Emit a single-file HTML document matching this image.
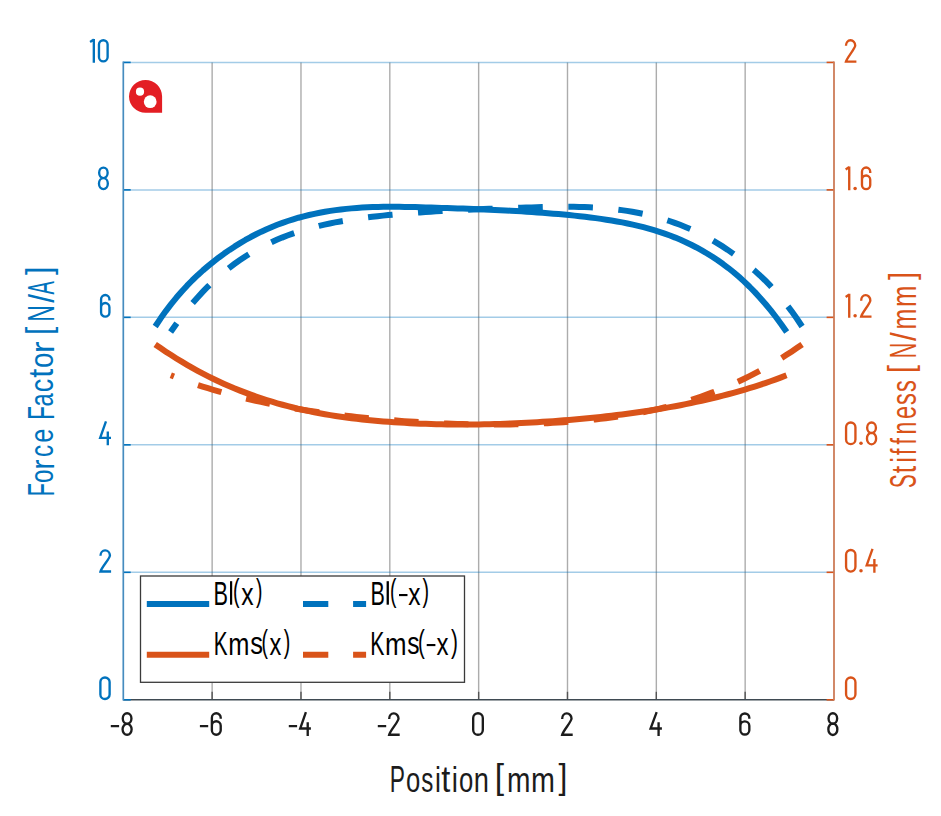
<!DOCTYPE html>
<html><head><meta charset="utf-8"><style>
html,body{margin:0;padding:0;background:#fff;}
svg{display:block;}
text{font-family:"Liberation Sans", sans-serif;}
</style></head><body>
<svg width="941" height="816" viewBox="0 0 941 816">
<rect width="941" height="816" fill="#fff"/>
<line x1="212.14" y1="62.4" x2="212.14" y2="699.8" stroke="#262626" stroke-opacity="0.38" stroke-width="1.4"/>
<line x1="300.98" y1="62.4" x2="300.98" y2="699.8" stroke="#262626" stroke-opacity="0.38" stroke-width="1.4"/>
<line x1="389.81" y1="62.4" x2="389.81" y2="699.8" stroke="#262626" stroke-opacity="0.38" stroke-width="1.4"/>
<line x1="478.65" y1="62.4" x2="478.65" y2="699.8" stroke="#262626" stroke-opacity="0.38" stroke-width="1.4"/>
<line x1="567.49" y1="62.4" x2="567.49" y2="699.8" stroke="#262626" stroke-opacity="0.38" stroke-width="1.4"/>
<line x1="656.33" y1="62.4" x2="656.33" y2="699.8" stroke="#262626" stroke-opacity="0.38" stroke-width="1.4"/>
<line x1="745.16" y1="62.4" x2="745.16" y2="699.8" stroke="#262626" stroke-opacity="0.38" stroke-width="1.4"/>
<line x1="123.3" y1="572.32" x2="834.0" y2="572.32" stroke="#0072BD" stroke-opacity="0.36" stroke-width="1.5"/>
<line x1="123.3" y1="444.84" x2="834.0" y2="444.84" stroke="#0072BD" stroke-opacity="0.36" stroke-width="1.5"/>
<line x1="123.3" y1="317.36" x2="834.0" y2="317.36" stroke="#0072BD" stroke-opacity="0.36" stroke-width="1.5"/>
<line x1="123.3" y1="189.88" x2="834.0" y2="189.88" stroke="#0072BD" stroke-opacity="0.36" stroke-width="1.5"/>
<line x1="123.3" y1="62.40" x2="834.0" y2="62.40" stroke="#0072BD" stroke-opacity="0.36" stroke-width="1.5"/>
<line x1="212.14" y1="691.8" x2="212.14" y2="699.8" stroke="#555" stroke-width="1.4"/>
<line x1="300.98" y1="691.8" x2="300.98" y2="699.8" stroke="#555" stroke-width="1.4"/>
<line x1="389.81" y1="691.8" x2="389.81" y2="699.8" stroke="#555" stroke-width="1.4"/>
<line x1="478.65" y1="691.8" x2="478.65" y2="699.8" stroke="#555" stroke-width="1.4"/>
<line x1="567.49" y1="691.8" x2="567.49" y2="699.8" stroke="#555" stroke-width="1.4"/>
<line x1="656.33" y1="691.8" x2="656.33" y2="699.8" stroke="#555" stroke-width="1.4"/>
<line x1="745.16" y1="691.8" x2="745.16" y2="699.8" stroke="#555" stroke-width="1.4"/>
<line x1="123.3" y1="699.8" x2="834.0" y2="699.8" stroke="#3f4a52" stroke-width="1.6"/>
<line x1="123.3" y1="699.80" x2="130.7" y2="699.80" stroke="#0072BD" stroke-width="1.6"/>
<line x1="826.6" y1="699.80" x2="834.0" y2="699.80" stroke="#D95319" stroke-width="1.6"/>
<line x1="123.3" y1="572.32" x2="130.7" y2="572.32" stroke="#0072BD" stroke-width="1.6"/>
<line x1="826.6" y1="572.32" x2="834.0" y2="572.32" stroke="#D95319" stroke-width="1.6"/>
<line x1="123.3" y1="444.84" x2="130.7" y2="444.84" stroke="#0072BD" stroke-width="1.6"/>
<line x1="826.6" y1="444.84" x2="834.0" y2="444.84" stroke="#D95319" stroke-width="1.6"/>
<line x1="123.3" y1="317.36" x2="130.7" y2="317.36" stroke="#0072BD" stroke-width="1.6"/>
<line x1="826.6" y1="317.36" x2="834.0" y2="317.36" stroke="#D95319" stroke-width="1.6"/>
<line x1="123.3" y1="189.88" x2="130.7" y2="189.88" stroke="#0072BD" stroke-width="1.6"/>
<line x1="826.6" y1="189.88" x2="834.0" y2="189.88" stroke="#D95319" stroke-width="1.6"/>
<line x1="123.3" y1="62.40" x2="130.7" y2="62.40" stroke="#0072BD" stroke-width="1.6"/>
<line x1="826.6" y1="62.40" x2="834.0" y2="62.40" stroke="#D95319" stroke-width="1.6"/>
<line x1="123.3" y1="61.6" x2="123.3" y2="700.5999999999999" stroke="#468cbf" stroke-width="1.7"/>
<line x1="834.0" y1="61.6" x2="834.0" y2="700.5999999999999" stroke="#cd7c58" stroke-width="1.8"/>
<path d="M155.20,326.50 L160.51,318.54 L165.81,311.08 L171.12,304.10 L176.43,297.55 L181.73,291.42 L187.04,285.66 L192.35,280.26 L197.65,275.18 L202.96,270.39 L208.27,265.86 L213.57,261.56 L218.88,257.47 L224.19,253.58 L229.49,249.90 L234.80,246.40 L240.11,243.10 L245.41,239.97 L250.72,237.03 L256.03,234.26 L261.33,231.66 L266.64,229.22 L271.95,226.94 L277.25,224.81 L282.56,222.84 L287.87,221.00 L293.17,219.31 L298.48,217.74 L303.79,216.31 L309.09,215.00 L314.40,213.81 L319.71,212.73 L325.02,211.76 L330.32,210.90 L335.63,210.13 L340.94,209.46 L346.24,208.88 L351.55,208.38 L356.86,207.96 L362.16,207.61 L367.47,207.34 L372.78,207.12 L378.08,206.97 L383.39,206.87 L388.70,206.82 L394.00,206.81 L399.31,206.84 L404.62,206.91 L409.92,207.00 L415.23,207.12 L420.54,207.26 L425.84,207.41 L431.15,207.57 L436.46,207.74 L441.76,207.91 L447.07,208.08 L452.38,208.26 L457.68,208.44 L462.99,208.62 L468.30,208.82 L473.60,209.02 L478.91,209.23 L484.22,209.45 L489.52,209.68 L494.83,209.92 L500.14,210.18 L505.44,210.45 L510.75,210.73 L516.06,211.03 L521.36,211.34 L526.67,211.68 L531.98,212.03 L537.28,212.40 L542.59,212.79 L547.90,213.21 L553.20,213.64 L558.51,214.10 L563.82,214.58 L569.12,215.09 L574.43,215.63 L579.74,216.20 L585.04,216.80 L590.35,217.45 L595.66,218.13 L600.96,218.87 L606.27,219.66 L611.58,220.51 L616.88,221.42 L622.19,222.39 L627.50,223.45 L632.81,224.58 L638.11,225.81 L643.42,227.14 L648.73,228.57 L654.03,230.12 L659.34,231.79 L664.65,233.58 L669.95,235.51 L675.26,237.59 L680.57,239.81 L685.87,242.20 L691.18,244.75 L696.49,247.47 L701.79,250.37 L707.10,253.47 L712.41,256.77 L717.71,260.29 L723.02,264.03 L728.33,268.03 L733.63,272.28 L738.94,276.80 L744.25,281.62 L749.55,286.73 L754.86,292.15 L760.17,297.91 L765.47,304.00 L770.78,310.45 L776.09,317.27 L781.39,324.47 L786.70,332.07" fill="none" stroke="#0072BD" stroke-width="6" stroke-linejoin="round"/>
<path d="M802.10,326.50 L796.79,318.54 L791.49,311.08 L786.18,304.10 L780.87,297.55 L775.57,291.42 L770.26,285.66 L764.95,280.26 L759.65,275.18 L754.34,270.39 L749.03,265.86 L743.73,261.56 L738.42,257.47 L733.11,253.58 L727.81,249.90 L722.50,246.40 L717.19,243.10 L711.89,239.97 L706.58,237.03 L701.27,234.26 L695.97,231.66 L690.66,229.22 L685.35,226.94 L680.05,224.81 L674.74,222.84 L669.43,221.00 L664.13,219.31 L658.82,217.74 L653.51,216.31 L648.21,215.00 L642.90,213.81 L637.59,212.73 L632.28,211.76 L626.98,210.90 L621.67,210.13 L616.36,209.46 L611.06,208.88 L605.75,208.38 L600.44,207.96 L595.14,207.61 L589.83,207.34 L584.52,207.12 L579.22,206.97 L573.91,206.87 L568.60,206.82 L563.30,206.81 L557.99,206.84 L552.68,206.91 L547.38,207.00 L542.07,207.12 L536.76,207.26 L531.46,207.41 L526.15,207.57 L520.84,207.74 L515.54,207.91 L510.23,208.08 L504.92,208.26 L499.62,208.44 L494.31,208.62 L489.00,208.82 L483.70,209.02 L478.39,209.23 L473.08,209.45 L467.78,209.68 L462.47,209.92 L457.16,210.18 L451.86,210.45 L446.55,210.73 L441.24,211.03 L435.94,211.34 L430.63,211.68 L425.32,212.03 L420.02,212.40 L414.71,212.79 L409.40,213.21 L404.10,213.64 L398.79,214.10 L393.48,214.58 L388.18,215.09 L382.87,215.63 L377.56,216.20 L372.26,216.80 L366.95,217.45 L361.64,218.13 L356.34,218.87 L351.03,219.66 L345.72,220.51 L340.42,221.42 L335.11,222.39 L329.80,223.45 L324.49,224.58 L319.19,225.81 L313.88,227.14 L308.57,228.57 L303.27,230.12 L297.96,231.79 L292.65,233.58 L287.35,235.51 L282.04,237.59 L276.73,239.81 L271.43,242.20 L266.12,244.75 L260.81,247.47 L255.51,250.37 L250.20,253.47 L244.89,256.77 L239.59,260.29 L234.28,264.03 L228.97,268.03 L223.67,272.28 L218.36,276.80 L213.05,281.62 L207.75,286.73 L202.44,292.15 L197.13,297.91 L191.83,304.00 L186.52,310.45 L181.21,317.27 L175.91,324.47 L170.60,332.07" fill="none" stroke="#0072BD" stroke-width="6" stroke-dasharray="24.6 25.55"/>
<path d="M155.20,344.43 L160.51,348.09 L165.81,351.65 L171.12,355.10 L176.42,358.44 L181.73,361.68 L187.03,364.82 L192.34,367.85 L197.64,370.78 L202.95,373.61 L208.25,376.34 L213.56,378.96 L218.86,381.48 L224.17,383.91 L229.47,386.23 L234.78,388.47 L240.08,390.61 L245.39,392.67 L250.69,394.63 L256.00,396.52 L261.30,398.32 L266.61,400.04 L271.91,401.69 L277.22,403.26 L282.52,404.75 L287.83,406.17 L293.13,407.52 L298.44,408.80 L303.74,410.00 L309.05,411.15 L314.35,412.23 L319.66,413.24 L324.96,414.20 L330.27,415.10 L335.57,415.95 L340.88,416.74 L346.18,417.48 L351.49,418.17 L356.79,418.81 L362.10,419.41 L367.40,419.97 L372.71,420.49 L378.01,420.97 L383.32,421.41 L388.62,421.82 L393.93,422.20 L399.23,422.55 L404.54,422.87 L409.84,423.16 L415.15,423.42 L420.45,423.65 L425.76,423.85 L431.06,424.03 L436.37,424.18 L441.67,424.29 L446.98,424.39 L452.28,424.45 L457.59,424.49 L462.89,424.51 L468.20,424.49 L473.50,424.46 L478.81,424.39 L484.11,424.31 L489.42,424.20 L494.72,424.06 L500.03,423.90 L505.33,423.72 L510.64,423.52 L515.94,423.29 L521.25,423.04 L526.55,422.78 L531.86,422.48 L537.16,422.17 L542.47,421.84 L547.77,421.49 L553.08,421.12 L558.38,420.73 L563.69,420.32 L568.99,419.89 L574.30,419.44 L579.60,418.98 L584.91,418.49 L590.21,417.98 L595.52,417.45 L600.82,416.90 L606.13,416.32 L611.43,415.72 L616.74,415.09 L622.04,414.43 L627.35,413.75 L632.65,413.03 L637.96,412.29 L643.26,411.52 L648.57,410.72 L653.87,409.88 L659.18,409.01 L664.48,408.11 L669.79,407.17 L675.09,406.19 L680.40,405.18 L685.70,404.13 L691.01,403.04 L696.31,401.91 L701.62,400.74 L706.92,399.53 L712.23,398.27 L717.53,396.98 L722.84,395.63 L728.14,394.25 L733.45,392.81 L738.75,391.32 L744.06,389.79 L749.36,388.19 L754.67,386.54 L759.97,384.83 L765.28,383.06 L770.58,381.23 L775.89,379.33 L781.19,377.36 L786.50,375.31" fill="none" stroke="#D95319" stroke-width="6" stroke-linejoin="round"/>
<path d="M802.10,344.43 L796.79,348.09 L791.49,351.65 L786.18,355.10 L780.88,358.44 L775.57,361.68 L770.27,364.82 L764.96,367.85 L759.66,370.78 L754.35,373.61 L749.05,376.34 L743.74,378.96 L738.44,381.48 L733.13,383.91 L727.83,386.23 L722.52,388.47 L717.22,390.61 L711.91,392.67 L706.61,394.63 L701.30,396.52 L696.00,398.32 L690.69,400.04 L685.39,401.69 L680.08,403.26 L674.78,404.75 L669.47,406.17 L664.17,407.52 L658.86,408.80 L653.56,410.00 L648.25,411.15 L642.95,412.23 L637.64,413.24 L632.34,414.20 L627.03,415.10 L621.73,415.95 L616.42,416.74 L611.12,417.48 L605.81,418.17 L600.51,418.81 L595.20,419.41 L589.90,419.97 L584.59,420.49 L579.29,420.97 L573.98,421.41 L568.68,421.82 L563.37,422.20 L558.07,422.55 L552.76,422.87 L547.46,423.16 L542.15,423.42 L536.85,423.65 L531.54,423.85 L526.24,424.03 L520.93,424.18 L515.63,424.29 L510.32,424.39 L505.02,424.45 L499.71,424.49 L494.41,424.51 L489.10,424.49 L483.80,424.46 L478.49,424.39 L473.19,424.31 L467.88,424.20 L462.58,424.06 L457.27,423.90 L451.97,423.72 L446.66,423.52 L441.36,423.29 L436.05,423.04 L430.75,422.78 L425.44,422.48 L420.14,422.17 L414.83,421.84 L409.53,421.49 L404.22,421.12 L398.92,420.73 L393.61,420.32 L388.31,419.89 L383.00,419.44 L377.70,418.98 L372.39,418.49 L367.09,417.98 L361.78,417.45 L356.48,416.90 L351.17,416.32 L345.87,415.72 L340.56,415.09 L335.26,414.43 L329.95,413.75 L324.65,413.03 L319.34,412.29 L314.04,411.52 L308.73,410.72 L303.43,409.88 L298.12,409.01 L292.82,408.11 L287.51,407.17 L282.21,406.19 L276.90,405.18 L271.60,404.13 L266.29,403.04 L260.99,401.91 L255.68,400.74 L250.38,399.53 L245.07,398.27 L239.77,396.98 L234.46,395.63 L229.16,394.25 L223.85,392.81 L218.55,391.32 L213.24,389.79 L207.94,388.19 L202.63,386.54 L197.33,384.83 L192.02,383.06 L186.72,381.23 L181.41,379.33 L176.11,377.36 L170.80,375.31" fill="none" stroke="#D95319" stroke-width="6" stroke-dasharray="24.45 25.49"/>
<g fill="#e31e24"><path d="M129,96.5 A16.5,16.5 0 1 1 162.1,96.5 L162.1,112.8 L145.5,112.8 A16.5,16.5 0 0 1 129,96.5 Z"/></g>
<circle cx="140" cy="91.7" r="4.1" fill="#fff"/><circle cx="150.2" cy="101.7" r="6.4" fill="#fff"/>
<rect x="140.5" y="576" width="324" height="106.3" fill="#fff" stroke="#3a3a3a" stroke-width="1.3"/>
<line x1="146.8" y1="604" x2="209.2" y2="604" stroke="#0072BD" stroke-width="6"/>
<line x1="303" y1="604" x2="366.1" y2="604" stroke="#0072BD" stroke-width="6" stroke-dasharray="25.3 24.8"/>
<line x1="146.8" y1="654.7" x2="209.2" y2="654.7" stroke="#D95319" stroke-width="6"/>
<line x1="303" y1="654.7" x2="366.1" y2="654.7" stroke="#D95319" stroke-width="6" stroke-dasharray="25.3 24.8"/>
<text transform="translate(213.57,604.70) scale(0.6366,1)" font-size="34.058" fill="#000">B</text>
<rect x="230.0" y="581.2" width="2.1999999999999886" height="23.5" fill="#000"/>
<text transform="translate(232.92,601.33) scale(0.6371,1)" font-size="30.802" fill="#000">(</text>
<text transform="translate(241.23,604.70) scale(0.7786,1)" font-size="31.698" fill="#000">x</text>
<text transform="translate(256.01,601.33) scale(0.6243,1)" font-size="30.802" fill="#000">)</text>
<text transform="translate(370.38,604.70) scale(0.6311,1)" font-size="34.058" fill="#000">B</text>
<rect x="386.6" y="581.2" width="2.2999999999999545" height="23.5" fill="#000"/>
<text transform="translate(389.95,601.33) scale(0.6248,1)" font-size="30.802" fill="#000">(</text>
<line x1="399.0" y1="595.07" x2="407.5" y2="595.07" stroke="#000" stroke-width="2.1"/>
<text transform="translate(408.13,604.70) scale(0.7719,1)" font-size="31.698" fill="#000">x</text>
<text transform="translate(422.60,601.33) scale(0.6368,1)" font-size="30.802" fill="#000">)</text>
<text transform="translate(213.74,654.50) scale(0.6209,1)" font-size="33.333" fill="#000">K</text>
<text transform="translate(228.25,654.50) scale(0.8272,1)" font-size="30.741" fill="#000">m</text>
<text transform="translate(250.33,654.48) scale(0.8085,1)" font-size="31.56" fill="#000">s</text>
<text transform="translate(261.45,651.50) scale(0.6314,1)" font-size="30.481" fill="#000">(</text>
<text transform="translate(269.45,654.50) scale(0.7540,1)" font-size="31.321" fill="#000">x</text>
<text transform="translate(283.70,651.50) scale(0.6435,1)" font-size="30.481" fill="#000">)</text>
<text transform="translate(370.20,654.50) scale(0.6365,1)" font-size="33.333" fill="#000">K</text>
<text transform="translate(384.92,654.50) scale(0.8411,1)" font-size="30.741" fill="#000">m</text>
<text transform="translate(407.36,654.48) scale(0.7794,1)" font-size="31.56" fill="#000">s</text>
<text transform="translate(418.08,651.50) scale(0.6685,1)" font-size="30.481" fill="#000">(</text>
<line x1="426.7" y1="645.07" x2="435.4" y2="645.07" stroke="#000" stroke-width="2.1"/>
<text transform="translate(436.54,654.50) scale(0.7676,1)" font-size="31.321" fill="#000">x</text>
<text transform="translate(450.89,651.50) scale(0.6814,1)" font-size="30.481" fill="#000">)</text>
<path d="M90.08,42.01 L93.83,39.60 M93.83,38.90 L93.83,62.80 M98.97,44.40 A4.33,4.33 0 0 1 107.62,44.40 L107.62,57.30 A4.33,4.33 0 0 1 98.97,57.30 Z" fill="none" stroke="#0072BD" stroke-width="2.35" stroke-linejoin="miter" stroke-linecap="butt"/>
<path d="M99.15,172.83 A4.25,5.28 0 1 1 107.65,172.83 A4.25,5.28 0 1 1 99.15,172.83 Z M98.97,183.61 A4.43,5.50 0 1 1 107.83,183.61 A4.43,5.50 0 1 1 98.97,183.61 Z" fill="none" stroke="#0072BD" stroke-width="2.35" stroke-linejoin="miter" stroke-linecap="butt"/>
<path d="M101.08,307.18 A4.17,4.17 0 0 1 109.42,307.18 L109.42,312.41 A4.17,4.17 0 0 1 101.08,312.41 Z M101.08,307.18 L101.08,299.21 A4.17,4.17 0 0 1 109.42,299.21 L109.42,300.55" fill="none" stroke="#0072BD" stroke-width="2.35" stroke-linejoin="miter" stroke-linecap="butt"/>
<path d="M105.97,421.34 L100.17,437.82 L111.00,437.82 M107.80,431.57 L107.80,445.24" fill="none" stroke="#0072BD" stroke-width="2.35" stroke-linejoin="miter" stroke-linecap="butt"/>
<path d="M100.47,555.65 A4.73,5.39 0 0 1 109.92,555.38 C109.92,558.40 101.61,567.23 100.47,571.54 L111.10,571.54" fill="none" stroke="#0072BD" stroke-width="2.35" stroke-linejoin="miter" stroke-linecap="butt"/>
<path d="M100.38,682.10 A4.62,4.62 0 0 1 109.62,682.10 L109.62,694.40 A4.62,4.62 0 0 1 100.38,694.40 Z" fill="none" stroke="#0072BD" stroke-width="2.35" stroke-linejoin="miter" stroke-linecap="butt"/>
<path d="M845.97,45.73 A4.63,5.39 0 0 1 855.23,45.46 C855.23,48.48 847.08,57.31 845.97,61.62 L856.40,61.62" fill="none" stroke="#D95319" stroke-width="2.35" stroke-linejoin="miter" stroke-linecap="butt"/>
<path d="M845.67,169.49 L849.23,167.09 M849.23,166.38 L849.23,190.28 M861.97,179.65 A4.13,4.13 0 0 1 870.23,179.65 L870.23,184.98 A4.13,4.13 0 0 1 861.97,184.98 Z M861.97,179.65 L861.97,171.68 A4.13,4.13 0 0 1 870.23,171.68 L870.23,173.07" fill="none" stroke="#D95319" stroke-width="2.35" stroke-linejoin="miter" stroke-linecap="butt"/><circle cx="855.10" cy="188.38" r="1.75" fill="#D95319"/>
<path d="M845.67,296.97 L849.23,294.56 M849.23,293.86 L849.23,317.76 M861.17,300.69 A4.58,5.39 0 0 1 870.33,300.42 C870.33,303.44 862.27,312.27 861.17,316.58 L871.50,316.58" fill="none" stroke="#D95319" stroke-width="2.35" stroke-linejoin="miter" stroke-linecap="butt"/><circle cx="855.10" cy="315.86" r="1.75" fill="#D95319"/>
<path d="M846.07,427.19 A4.68,4.68 0 0 1 855.43,427.19 L855.43,439.39 A4.68,4.68 0 0 1 846.07,439.39 Z M867.16,427.79 A4.39,5.28 0 1 1 875.94,427.79 A4.39,5.28 0 1 1 867.16,427.79 Z M866.97,438.57 A4.58,5.50 0 1 1 876.12,438.57 A4.58,5.50 0 1 1 866.97,438.57 Z" fill="none" stroke="#D95319" stroke-width="2.35" stroke-linejoin="miter" stroke-linecap="butt"/><circle cx="861.00" cy="443.34" r="1.75" fill="#D95319"/>
<path d="M846.07,554.67 A4.68,4.68 0 0 1 855.43,554.67 L855.43,566.87 A4.68,4.68 0 0 1 846.07,566.87 Z M872.52,548.82 L866.67,565.30 L877.60,565.30 M874.38,559.05 L874.38,572.72" fill="none" stroke="#D95319" stroke-width="2.35" stroke-linejoin="miter" stroke-linecap="butt"/><circle cx="861.00" cy="570.82" r="1.75" fill="#D95319"/>
<path d="M846.07,682.15 A4.68,4.68 0 0 1 855.43,682.15 L855.43,694.35 A4.68,4.68 0 0 1 846.07,694.35 Z" fill="none" stroke="#D95319" stroke-width="2.35" stroke-linejoin="miter" stroke-linecap="butt"/>
<path d="M110.80,726.14 L119.10,726.14 M122.76,718.53 A4.34,5.26 0 1 1 131.44,718.53 A4.34,5.26 0 1 1 122.76,718.53 Z M122.58,729.26 A4.52,5.47 0 1 1 131.62,729.26 A4.52,5.47 0 1 1 122.58,729.26 Z" fill="none" stroke="#1c1c1c" stroke-width="2.35" stroke-linejoin="miter" stroke-linecap="butt"/>
<path d="M199.90,726.14 L208.20,726.14 M211.88,725.64 A4.42,4.42 0 0 1 220.72,725.64 L220.72,730.30 A4.42,4.42 0 0 1 211.88,730.30 Z M211.88,725.64 L211.88,717.70 A4.42,4.42 0 0 1 220.72,717.70 L220.72,718.76" fill="none" stroke="#1c1c1c" stroke-width="2.35" stroke-linejoin="miter" stroke-linecap="butt"/>
<path d="M288.80,726.14 L297.10,726.14 M305.90,712.10 L300.18,728.50 L310.90,728.50 M307.72,722.28 L307.72,735.90" fill="none" stroke="#1c1c1c" stroke-width="2.35" stroke-linejoin="miter" stroke-linecap="butt"/>
<path d="M377.80,726.14 L386.20,726.14 M389.18,718.91 A4.67,5.36 0 0 1 398.52,718.64 C398.52,721.64 390.30,730.44 389.18,734.73 L399.70,734.73" fill="none" stroke="#1c1c1c" stroke-width="2.35" stroke-linejoin="miter" stroke-linecap="butt"/>
<path d="M473.18,718.10 A4.82,4.82 0 0 1 482.82,718.10 L482.82,729.90 A4.82,4.82 0 0 1 473.18,729.90 Z" fill="none" stroke="#1c1c1c" stroke-width="2.35" stroke-linejoin="miter" stroke-linecap="butt"/>
<path d="M562.17,718.91 A4.68,5.36 0 0 1 571.53,718.64 C571.53,721.64 563.30,730.44 562.17,734.73 L572.70,734.73" fill="none" stroke="#1c1c1c" stroke-width="2.35" stroke-linejoin="miter" stroke-linecap="butt"/>
<path d="M656.66,712.10 L650.57,728.50 L661.90,728.50 M658.59,722.28 L658.59,735.90" fill="none" stroke="#1c1c1c" stroke-width="2.35" stroke-linejoin="miter" stroke-linecap="butt"/>
<path d="M740.38,725.69 A4.48,4.48 0 0 1 749.33,725.69 L749.33,730.25 A4.48,4.48 0 0 1 740.38,730.25 Z M740.38,725.69 L740.38,717.75 A4.48,4.48 0 0 1 749.33,717.75 L749.33,718.76" fill="none" stroke="#1c1c1c" stroke-width="2.35" stroke-linejoin="miter" stroke-linecap="butt"/>
<path d="M828.55,718.53 A4.30,5.26 0 1 1 837.15,718.53 A4.30,5.26 0 1 1 828.55,718.53 Z M828.38,729.26 A4.48,5.47 0 1 1 837.33,729.26 A4.48,5.47 0 1 1 828.38,729.26 Z" fill="none" stroke="#1c1c1c" stroke-width="2.35" stroke-linejoin="miter" stroke-linecap="butt"/>
<text transform="translate(389.68,792.00) scale(0.6146,1)" font-size="37.101" fill="#1c1c1c">P</text>
<text transform="translate(405.97,791.95) scale(0.7319,1)" font-size="35.091" fill="#1c1c1c">o</text>
<text transform="translate(421.18,791.95) scale(0.6816,1)" font-size="35.413" fill="#1c1c1c">s</text>
<text transform="translate(435.07,792.00) scale(0.7552,1)" font-size="35.31" fill="#1c1c1c">i</text>
<text transform="translate(441.31,791.84) scale(0.8920,1)" font-size="36.489" fill="#1c1c1c">t</text>
<text transform="translate(451.69,792.00) scale(0.7867,1)" font-size="35.31" fill="#1c1c1c">i</text>
<text transform="translate(458.97,791.95) scale(0.7319,1)" font-size="35.091" fill="#1c1c1c">o</text>
<text transform="translate(473.73,792.00) scale(0.7840,1)" font-size="34.815" fill="#1c1c1c">n</text>
<text transform="translate(494.76,789.08) scale(0.9350,1)" font-size="35.829" fill="#1c1c1c">[</text>
<text transform="translate(507.07,791.90) scale(0.7999,1)" font-size="35.185" fill="#1c1c1c">m</text>
<text transform="translate(531.03,791.90) scale(0.8161,1)" font-size="35.185" fill="#1c1c1c">m</text>
<text transform="translate(558.58,789.08) scale(0.8874,1)" font-size="35.829" fill="#1c1c1c">]</text>
<text transform="translate(53.50,496.21) rotate(-90) scale(0.5844,1)" font-size="36.667" fill="#0072BD">F</text>
<text transform="translate(53.36,483.07) rotate(-90) scale(0.7198,1)" font-size="33.636" fill="#0072BD">o</text>
<text transform="translate(53.50,469.80) rotate(-90) scale(0.9189,1)" font-size="33.519" fill="#0072BD">r</text>
<text transform="translate(53.36,456.90) rotate(-90) scale(0.7260,1)" font-size="33.636" fill="#0072BD">c</text>
<text transform="translate(53.36,442.61) rotate(-90) scale(0.7353,1)" font-size="33.636" fill="#0072BD">e</text>
<text transform="translate(53.50,419.80) rotate(-90) scale(0.6122,1)" font-size="36.667" fill="#0072BD">F</text>
<text transform="translate(53.36,406.47) rotate(-90) scale(0.7054,1)" font-size="33.636" fill="#0072BD">a</text>
<text transform="translate(53.36,392.31) rotate(-90) scale(0.8020,1)" font-size="33.636" fill="#0072BD">c</text>
<text transform="translate(53.25,377.79) rotate(-90) scale(0.9351,1)" font-size="34.809" fill="#0072BD">t</text>
<text transform="translate(53.36,367.91) rotate(-90) scale(0.8262,1)" font-size="33.636" fill="#0072BD">o</text>
<text transform="translate(53.50,353.19) rotate(-90) scale(1.0502,1)" font-size="33.519" fill="#0072BD">r</text>
<text transform="translate(50.77,334.73) rotate(-90) scale(0.8421,1)" font-size="34.439" fill="#0072BD">[</text>
<text transform="translate(53.90,321.64) rotate(-90) scale(0.6233,1)" font-size="36.957" fill="#0072BD">N</text>
<text transform="translate(53.55,302.70) rotate(-90) scale(0.9014,1)" font-size="34.694" fill="#0072BD">/</text>
<text transform="translate(53.90,294.50) rotate(-90) scale(0.5373,1)" font-size="37.226" fill="#0072BD">A</text>
<text transform="translate(50.77,275.00) rotate(-90) scale(0.8637,1)" font-size="34.439" fill="#0072BD">]</text>
<text transform="translate(916.13,487.92) rotate(-90) scale(0.5561,1)" font-size="36.901" fill="#D95319">S</text>
<text transform="translate(916.04,473.30) rotate(-90) scale(0.7496,1)" font-size="35.573" fill="#D95319">t</text>
<text transform="translate(916.30,462.66) rotate(-90) scale(0.7181,1)" font-size="35.586" fill="#D95319">i</text>
<text transform="translate(916.30,455.05) rotate(-90) scale(0.6469,1)" font-size="35.586" fill="#D95319">f</text>
<text transform="translate(916.30,444.45) rotate(-90) scale(0.6469,1)" font-size="35.586" fill="#D95319">f</text>
<text transform="translate(916.20,434.40) rotate(-90) scale(0.6588,1)" font-size="35.0" fill="#D95319">n</text>
<text transform="translate(916.15,419.06) rotate(-90) scale(0.6707,1)" font-size="35.273" fill="#D95319">e</text>
<text transform="translate(916.14,405.00) rotate(-90) scale(0.6587,1)" font-size="35.596" fill="#D95319">s</text>
<text transform="translate(916.14,392.00) rotate(-90) scale(0.6587,1)" font-size="35.596" fill="#D95319">s</text>
<text transform="translate(913.39,373.03) rotate(-90) scale(0.8217,1)" font-size="35.294" fill="#D95319">[</text>
<text transform="translate(916.30,358.33) rotate(-90) scale(0.5870,1)" font-size="36.812" fill="#D95319">N</text>
<text transform="translate(915.85,340.90) rotate(-90) scale(0.9119,1)" font-size="34.694" fill="#D95319">/</text>
<text transform="translate(916.20,329.53) rotate(-90) scale(0.7184,1)" font-size="35.0" fill="#D95319">m</text>
<text transform="translate(916.20,306.88) rotate(-90) scale(0.7388,1)" font-size="35.0" fill="#D95319">m</text>
<text transform="translate(913.56,280.09) rotate(-90) scale(0.8211,1)" font-size="34.973" fill="#D95319">]</text>
</svg></body></html>
